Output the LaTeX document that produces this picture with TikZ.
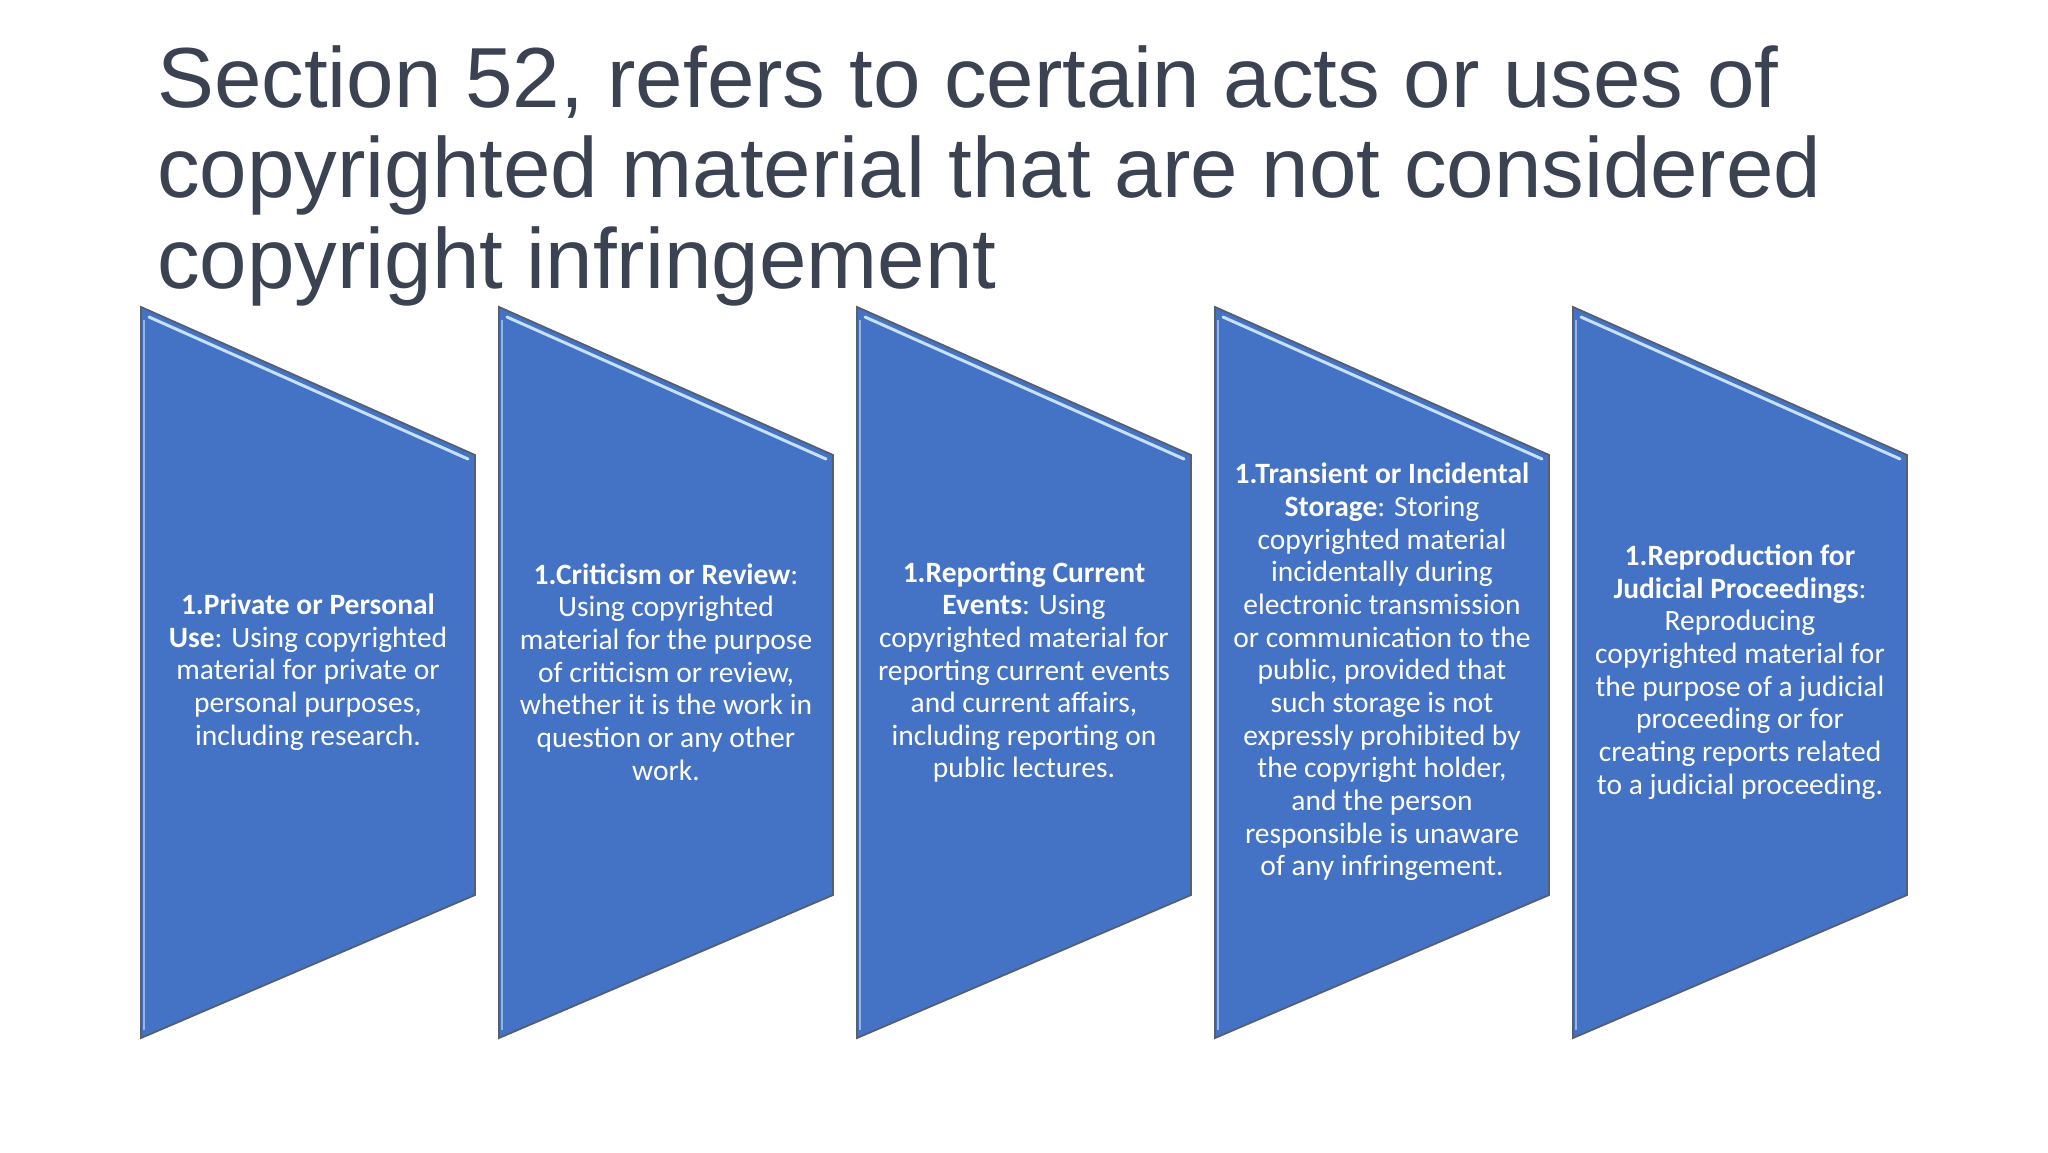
\documentclass[tikz,border=0pt]{standalone}
\usepackage{fontspec}
\setmainfont{Liberation Sans}
\newfontfamily\boxfont{Carlito}
\definecolor{titlecol}{RGB}{59,66,82}
\definecolor{boxblue}{RGB}{68,114,196}
\definecolor{edgegray}{RGB}{85,95,110}
\definecolor{hilite}{RGB}{200,225,250}
\tikzset{
  chev/.style={fill=boxblue, draw=edgegray, line width=1.8pt, line join=miter},
  hl/.style={draw=hilite, line width=3pt, line cap=round},
  sidehl/.style={draw=hilite!60!boxblue, line width=2pt},
  boxtext/.style={text=white, align=center, font=\boxfont\fontsize{29.5}{32.65}\selectfont, inner sep=0pt},
  titletext/.style={text=titlecol, align=left, font=\fontsize{85.3}{90.5}\selectfont, inner sep=0pt, anchor=base west}
}
\newcommand{\chevshape}[1]{%
  \path[chev] (#1,307) -- (#1+334,455) -- (#1+334,895) -- (#1,1038) -- cycle;
  \path[hl] (#1+8,317) -- (#1+327,459);
  \path[sidehl] (#1+3,320) -- (#1+3,1030);
}
\begin{document}
\begin{tikzpicture}[x=1pt,y=-1pt]
\useasboundingbox (0,0) rectangle (2048,1152);
\fill[white] (0,0) rectangle (2048,1152);
\node[titletext] (title) at (157,288) {Section 52, refers to certain acts or uses of\\copyrighted material that are not considered\\copyright infringement};
\chevshape{141}
\chevshape{499}
\chevshape{857}
\chevshape{1215}
\chevshape{1573}
\node[boxtext] (b1) at (308,672) {\textbf{1.Private or Personal}\\\textbf{Use}: Using copyrighted\\material for private or\\personal purposes,\\including research.};
\node[boxtext] (b2) at (666,672) {\textbf{1.Criticism or Review}:\\Using copyrighted\\material for the purpose\\of criticism or review,\\whether it is the work in\\question or any other\\work.};
\node[boxtext] (b3) at (1024,672) {\textbf{1.Reporting Current}\\\textbf{Events}: Using\\copyrighted material for\\reporting current events\\and current affairs,\\including reporting on\\public lectures.};
\node[boxtext] (b4) at (1382,672) {\textbf{1.Transient or Incidental}\\\textbf{Storage}: Storing\\copyrighted material\\incidentally during\\electronic transmission\\or communication to the\\public, provided that\\such storage is not\\expressly prohibited by\\the copyright holder,\\and the person\\responsible is unaware\\of any infringement.};
\node[boxtext] (b5) at (1740,672) {\textbf{1.Reproduction for}\\\textbf{Judicial Proceedings}:\\Reproducing\\copyrighted material for\\the purpose of a judicial\\proceeding or for\\creating reports related\\to a judicial proceeding.};
\end{tikzpicture}
\end{document}
